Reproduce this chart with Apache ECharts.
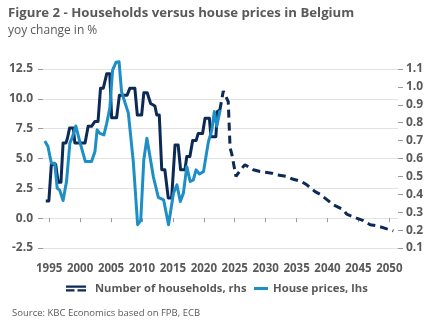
<!DOCTYPE html>
<html>
<head>
<meta charset="utf-8">
<script src="https://cdn.jsdelivr.net/npm/echarts@6/dist/echarts.min.js"></script>
<style>
  html, body { margin: 0; padding: 0; background: #fff; }
  #chart { width: 432px; height: 334px; }
</style>
</head>
<body>
<div id="chart"></div>
<script>
// Number of households, yoy % (right axis): observed, drawn as annual steps
const householdYears = [
  1994.45, 1994.95, 1995.35, 1996.05, 1996.45, 1996.9, 1997.25, 1997.7, 1997.95, 1998.3,
  1998.9, 1999.15, 2000.8, 2001.3, 2001.85, 2002.4, 2002.9, 2003.3, 2003.75, 2004.3,
  2004.8, 2005.1, 2005.9, 2006.35, 2007.6, 2008.05, 2008.85, 2009.25, 2009.95, 2010.3,
  2010.85, 2011.4, 2012.1, 2012.4, 2012.8, 2013.2, 2013.7, 2014.25, 2014.8, 2015.35,
  2015.85, 2016.25, 2016.95, 2017.25, 2017.75, 2018.2, 2018.75, 2019.1, 2019.8, 2020.2,
  2020.9, 2021.15, 2021.95, 2022.2, 2022.6
];
const householdValues = [
  0.363, 0.363, 0.567, 0.567, 0.467, 0.467, 0.687, 0.687, 0.713, 0.770,
  0.770, 0.687, 0.687, 0.780, 0.780, 0.807, 0.807, 0.993, 0.993, 1.073,
  1.073, 0.827, 0.827, 0.953, 0.953, 0.993, 0.993, 0.843, 0.843, 0.967,
  0.967, 0.907, 0.893, 0.843, 0.843, 0.537, 0.537, 0.380, 0.380, 0.676,
  0.676, 0.537, 0.537, 0.611, 0.611, 0.700, 0.700, 0.740, 0.740, 0.825,
  0.825, 0.722, 0.722, 0.862, 0.871
];

// Number of households, yoy % (right axis): projection
const projectionYears = [
  2022.6, 2023.15, 2023.95, 2024.25, 2024.5, 2025.2, 2025.95, 2026.65, 2028.0, 2029.1,
  2031.0, 2031.8, 2033.4, 2034.2, 2035.8, 2036.65, 2038.0, 2038.8, 2040.1, 2040.95,
  2042.6, 2043.1, 2044.7, 2045.8, 2046.9, 2048.0, 2049.6, 2050.65
];
const projectionValues = [
  0.871, 0.977, 0.918, 0.660, 0.629, 0.500, 0.537, 0.565, 0.537, 0.527,
  0.518, 0.509, 0.500, 0.487, 0.471, 0.453, 0.415, 0.400, 0.365, 0.341,
  0.313, 0.289, 0.267, 0.253, 0.230, 0.224, 0.207, 0.196
];

// House prices, yoy % (left axis)
const priceYears = [
  1994.3, 1994.8, 1995.35, 1995.9, 1996.3, 1996.7, 1997.25, 1997.8, 1998.35, 1998.7,
  1999.3, 1999.95, 2000.85, 2001.85, 2002.4, 2002.75, 2003.2, 2003.85, 2004.3, 2004.8,
  2005.25, 2005.8, 2006.3, 2006.7, 2007.8, 2008.6, 2009.3, 2009.8, 2010.3, 2010.8,
  2011.85, 2012.65, 2013.5, 2014.3, 2015.1, 2015.65, 2016.2, 2016.7, 2017.25, 2017.8,
  2018.3, 2018.75, 2019.3, 2019.95, 2020.75, 2021.3, 2021.7, 2022.1, 2022.65
];
const priceValues = [
  6.47, 6.00, 4.60, 4.60, 2.50, 2.35, 1.48, 3.07, 6.30, 6.70,
  7.73, 6.42, 4.74, 4.74, 5.58, 7.40, 7.10, 6.98, 7.95, 9.20,
  12.40, 13.06, 13.10, 10.60, 8.80, 4.74, -0.55, -0.20, 4.90, 6.70,
  3.45, 1.75, 1.54, -0.55, 2.10, 2.80, 1.40, 2.10, 4.32, 3.07,
  3.20, 4.05, 3.70, 3.90, 6.42, 7.40, 8.93, 7.70, 9.07
];

const yearTicks = [1995, 2000, 2005, 2010, 2015, 2020, 2025, 2030, 2035, 2040, 2045, 2050];
const projectionStart = 2022.5;

const NAVY = '#0c2a55';
const BLUE = '#1e8ec6';
const TEXT = '#595959';
const FONT = 'Open Sans';

const pairs = (xs, ys) => xs.map((x, i) => [x, ys[i]]);

const leftMin = -2.5, leftMax = 12.5;
const chart = echarts.init(document.getElementById('chart'), null, { renderer: 'canvas' });

chart.setOption({
  animation: false,
  textStyle: { fontFamily: FONT },
  title: [
    {
      text: 'Figure 2 - Households versus house prices in Belgium',
      subtext: 'yoy change in %',
      left: 8, top: 7, padding: 0, itemGap: 5,
      textStyle: { fontFamily: FONT, fontSize: 13.2, fontWeight: 'bold', color: TEXT },
      subtextStyle: { fontFamily: FONT, fontSize: 12, color: TEXT }
    },
    {
      text: 'Source: KBC Economics based on FPB, ECB',
      left: 12, top: 308, padding: 0,
      textStyle: { fontFamily: FONT, fontSize: 9.5, fontWeight: 'normal', color: TEXT }
    }
  ],
  legend: [
    {
      left: 66, top: 283, padding: 0,
      itemWidth: 20, itemHeight: 6,
      data: [{
        name: 'Number of households, rhs',
        icon: 'path://M0,0H20V2.2H0Z M0,3.6H8.5V5.8H0Z M11.5,3.6H20V5.8H11.5Z',
        itemStyle: { color: NAVY }
      }],
      textStyle: { fontFamily: FONT, fontSize: 11.2, fontWeight: 'bold', color: TEXT, padding: [0, 0, 0, 4] }
    },
    {
      left: 254, top: 283, padding: 0,
      itemWidth: 14, itemHeight: 3,
      data: [{ name: 'House prices, lhs', icon: 'rect', itemStyle: { color: BLUE } }],
      textStyle: { fontFamily: FONT, fontSize: 11.3, fontWeight: 'bold', color: TEXT }
    }
  ],
  grid: { left: 43, right: 34, top: 69, bottom: 86, containLabel: false },
  xAxis: {
    type: 'value', min: 1994, max: 2051.4,
    position: 'bottom', offset: 8,
    axisLine: { show: false },
    splitLine: { show: false },
    axisTick: { show: true, customValues: yearTicks, length: 4, lineStyle: { color: '#9a9a9a' } },
    axisLabel: {
      customValues: yearTicks, margin: 7, formatter: v => String(v),
      fontFamily: FONT, fontSize: 11.5, fontWeight: 'bold', color: TEXT
    }
  },
  yAxis: [
    {
      type: 'value', min: leftMin, max: leftMax, interval: 2.5,
      axisLine: { show: false },
      axisTick: { show: true, length: 5, lineStyle: { color: '#9a9a9a' } },
      splitLine: { show: true, lineStyle: { color: '#e2e2e2', width: 1 } },
      axisLabel: {
        margin: 10, formatter: v => v.toFixed(1),
        fontFamily: FONT, fontSize: 12, fontWeight: 'bold', color: TEXT
      }
    },
    {
      type: 'value', min: 0.1, max: 1.1, interval: 0.1, position: 'right',
      axisLine: { show: false },
      axisTick: { show: true, length: 5, lineStyle: { color: '#9a9a9a' } },
      splitLine: { show: false },
      axisLabel: {
        margin: 8, formatter: v => v.toFixed(1),
        fontFamily: FONT, fontSize: 12, fontWeight: 'bold', color: TEXT
      }
    }
  ],
  series: [
    {
      name: 'Number of households, rhs',
      type: 'line', yAxisIndex: 1, clip: false,
      symbol: 'none',
      data: pairs(householdYears, householdValues),
      lineStyle: { color: NAVY, width: 3, join: 'round' },
      itemStyle: { color: NAVY }
    },
    {
      name: 'Number of households, rhs',
      type: 'line', yAxisIndex: 1, clip: false,
      symbol: 'none',
      data: pairs(projectionYears, projectionValues),
      lineStyle: { color: NAVY, width: 3, type: [8, 5] },
      itemStyle: { color: NAVY }
    },
    {
      name: 'House prices, lhs',
      type: 'line', yAxisIndex: 0, clip: false,
      symbol: 'none',
      data: pairs(priceYears, priceValues),
      lineStyle: { color: BLUE, width: 3, join: 'round' },
      itemStyle: { color: BLUE },
      markLine: {
        silent: true, symbol: 'none', label: { show: false },
        lineStyle: { color: '#7a7a7a', width: 1, type: 'solid' },
        data: [[
          { coord: [projectionStart, leftMin - 0.67] },
          { coord: [projectionStart, leftMax + 0.67] }
        ]]
      }
    }
  ]
});
</script>
</body>
</html>
